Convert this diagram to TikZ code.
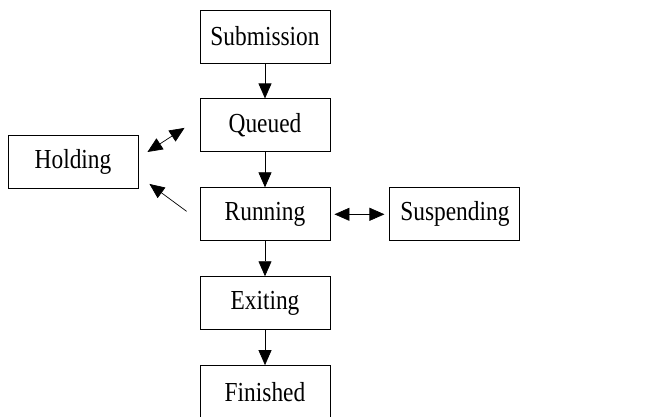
\documentclass[tikz,border=0pt]{standalone}
\usepackage{fontspec}
\setmainfont{Liberation Serif}[FakeStretch=0.85]
\usetikzlibrary{positioning,calc,arrows.meta}

\begin{document}
\begin{tikzpicture}[x=1pt, y=-1pt, node distance=35pt,
  box/.style={draw, line width=0.9pt, minimum width=130pt, minimum height=53pt, inner sep=0pt,
    font=\fontsize{27.5}{30}\selectfont},
  tip/.style={line width=0.7pt, -{Triangle[length=15pt,width=13pt]}},
  twotip/.style={line width=0.7pt, {Triangle[length=15pt,width=13pt]}-{Triangle[length=15pt,width=13pt]}}]
\path[use as bounding box, clip] (0,0) rectangle (658,417);
\node[box] at (265,36.5) (sub) {Submission};
\node[box,below=of sub]  (que) {Queued};
\node[box,below=of que]  (run) {Running};
\node[box,below=of run]  (exi) {Exiting};
\node[box,below=of exi]  (fin) {Finished};
%
\node[box] at (73,162)   (hold) {Holding};
\node[box,right=59pt of run] (susp) {Suspending};
%
\path[tip]
	(sub) edge (que)
	(que) edge (run)
	(run) edge (exi)
	(exi) edge (fin)
%
	($(run.west)+(-13,-3)$) edge ($(hold.south east)+(11,-5)$)
; %-draw-%
\path[twotip]
	($(hold.east)+(9,-10)$) edge ($(que.west)+(-15,2.5)$)
	([xshift=4pt]run.east) edge ([xshift=-5pt]run.east -| susp.west)
;
\end{tikzpicture}
\end{document}
